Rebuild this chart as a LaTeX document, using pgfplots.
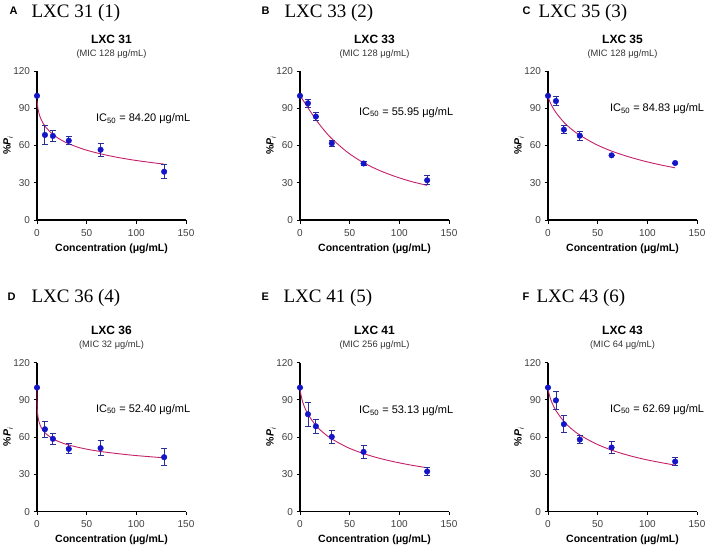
\documentclass[border=0pt]{standalone}
\usepackage{fontspec}
\setmainfont{Liberation Sans}
\newfontfamily\serifttl{Liberation Serif}
\usepackage{pgfplots}
\pgfplotsset{compat=1.18}
\definecolor{ptblue}{RGB}{20,20,200}
\definecolor{errblue}{RGB}{45,45,150}
\definecolor{fitcol}{RGB}{196,32,106}
\pgfplotsset{
  panel/.style={
    width=149pt,height=149pt,scale only axis,
    anchor=south west,
    axis lines=left,
    axis line style={-,line width=1.4pt,black},
    xmin=0,xmax=150,ymin=0,ymax=120,
    xtick={0,50,100,150}, ytick={0,30,60,90,120},
    tick align=outside, major tick length=3.5pt,
    tick style={line width=1pt,black},
    ticklabel style={font=\fontsize{10}{11}\selectfont,color=black!75},
    xticklabel style={yshift=-2pt},
    /pgf/number format/assume math mode=true,
    clip=false,
    xlabel={\textbf{Concentration (μg/mL)}},
    ylabel={\textbf{\%\textit{P}}\raisebox{-0.4ex}{\scriptsize\textit{i}}},
    every axis x label/.style={at={(axis description cs:0.5,0)},anchor=base,yshift=-31pt,font=\fontsize{10.5}{12}\selectfont},
    every axis y label/.style={at={([xshift=-29pt]axis description cs:0,0.5)},anchor=center,rotate=90,font=\fontsize{10.5}{12}\selectfont},
  },
  pts/.style={only marks, mark=*, mark size=2.8pt, color=ptblue,
    error bars/.cd, y dir=both, y explicit,
    error bar style={line width=0.9pt,color=errblue},
    error mark options={line width=0.9pt,color=errblue,mark size=3pt,rotate=90}},
  fit/.style={no marks, smooth, line width=0.9pt, color=fitcol},
}
\newcommand{\ttl}[2]{%
  \node[anchor=base,font=\bfseries\fontsize{12}{14}\selectfont] at ([yshift=28pt]axis description cs:0.5,1) {#1};
  \node[anchor=base,font=\fontsize{9.3}{11}\selectfont,color=black!80] at ([yshift=15pt]axis description cs:0.5,1) {#2};}
\newcommand{\ic}[3]{\node[anchor=base west,font=\fontsize{11}{13}\selectfont] at (axis cs:#1,#2) {IC\textsubscript{50} = #3 μg/mL};}
\begin{document}
\begin{tikzpicture}
\path[use as bounding box] (0,0) rectangle (708pt,-546pt);
% panel letters and serif titles
\node[anchor=base west,font=\bfseries\fontsize{11}{12}\selectfont] at (6pt,-14pt) {A};
\node[anchor=base west,font=\serifttl\fontsize{19}{22}\selectfont] at (28pt,-17pt) {LXC 31 (1)};
\node[anchor=base west,font=\bfseries\fontsize{11}{12}\selectfont] at (258pt,-14pt) {B};
\node[anchor=base west,font=\serifttl\fontsize{19}{22}\selectfont] at (281pt,-17pt) {LXC 33 (2)};
\node[anchor=base west,font=\bfseries\fontsize{11}{12}\selectfont] at (519pt,-14pt) {C};
\node[anchor=base west,font=\serifttl\fontsize{19}{22}\selectfont] at (535pt,-17pt) {LXC 35 (3)};
\node[anchor=base west,font=\bfseries\fontsize{11}{12}\selectfont] at (4pt,-300pt) {D};
\node[anchor=base west,font=\serifttl\fontsize{19}{22}\selectfont] at (28pt,-302pt) {LXC 36 (4)};
\node[anchor=base west,font=\bfseries\fontsize{11}{12}\selectfont] at (258pt,-300pt) {E};
\node[anchor=base west,font=\serifttl\fontsize{19}{22}\selectfont] at (280pt,-302pt) {LXC 41 (5)};
\node[anchor=base west,font=\bfseries\fontsize{11}{12}\selectfont] at (519pt,-300pt) {F};
\node[anchor=base west,font=\serifttl\fontsize{19}{22}\selectfont] at (533pt,-302pt) {LXC 43 (6)};

% A
\begin{axis}[panel, at={(37pt,-220pt)}]
\addplot[fit] coordinates {(0.1,96.2)(1,89.4)(2,85.8)(4,81.2)(8,75.6)(16,68.9)(24,64.6)(32,61.4)(48,56.7)(64,53.3)(80,50.6)(96,48.4)(112,46.6)(128,45.0)};
\addplot[pts] table[x=x,y=y,y error=e] {
x y e
0 100 0
8 68.5 7.5
16 67.7 4.3
32 63.9 3.4
64 56.6 5.1
128 38.9 5.8
};
\ttl{LXC 31}{(MIC 128 μg/mL)}
\ic{56}{79}{84.20}
\end{axis}

% B
\begin{axis}[panel, at={(300pt,-220pt)}]
\addplot[fit] coordinates {(0,100)(4,95.4)(8,90.4)(16,80.8)(24,72.6)(32,65.5)(48,54.4)(64,46.1)(80,39.9)(96,35.0)(112,31.0)(128,27.9)};
\addplot[pts] table[x=x,y=y,y error=e] {
x y e
0 100 0
8 94 3
16 83.3 3.5
32 61.8 2.5
64 45.5 1.6
128 32 3.6
};
\ttl{LXC 33}{(MIC 128 μg/mL)}
\ic{56}{84.5}{55.95}
\end{axis}

% C
\begin{axis}[panel, at={(548pt,-220pt)}]
\addplot[fit] coordinates {(0.5,98.3)(1,97.0)(2,95.0)(4,91.7)(8,86.5)(16,78.7)(24,72.9)(32,68.3)(48,61.0)(64,55.5)(80,51.2)(96,47.6)(112,44.6)(128,42.0)};
\addplot[pts] table[x=x,y=y,y error=e] {
x y e
0 100 0
8 95.8 3.5
16 72.8 3
32 67.9 3.5
64 52.1 0
128 45.9 0
};
\ttl{LXC 35}{(MIC 128 μg/mL)}
\ic{59}{87}{84.83}
\end{axis}

% D
\begin{axis}[panel, at={(37pt,-511.7pt)}]
\addplot[fit] coordinates {(0,99)(0.01,92.7)(0.1,86.5)(0.5,79.9)(1,76.4)(2,72.5)(4,68.2)(8,63.6)(16,58.7)(24,55.8)(32,53.7)(48,50.7)(64,48.5)(80,46.9)(96,45.5)(112,44.4)(128,43.4)};
\addplot[pts] table[x=x,y=y,y error=e] {
x y e
0 100 0
8 66.4 6.2
16 58.7 4.5
32 50.6 4
64 51.2 6
128 43.9 7
};
\ttl{LXC 36}{(MIC 32 μg/mL)}
\ic{56}{80.3}{52.40}
\end{axis}

% E
\begin{axis}[panel, at={(300pt,-511.7pt)}]
\addplot[fit] coordinates {(0.2,97.8)(1,93.8)(2,90.4)(4,85.4)(8,78.5)(16,69.4)(24,63.3)(32,58.6)(48,51.7)(64,46.8)(80,43.0)(96,40.0)(112,37.5)(128,35.4)};
\addplot[pts] table[x=x,y=y,y error=e] {
x y e
0 100 0
8 78.5 9.5
16 68.8 5.6
32 60.3 5.3
64 48.2 5.4
128 32.4 3.5
};
\ttl{LXC 41}{(MIC 256 μg/mL)}
\ic{56}{79}{53.13}
\end{axis}

% F
\begin{axis}[panel, at={(548pt,-511.7pt)}]
\addplot[fit] coordinates {(0.2,98.4)(1,95.1)(2,92.2)(4,87.8)(8,81.4)(16,72.7)(24,66.5)(32,61.8)(48,54.8)(64,49.6)(80,45.6)(96,42.4)(112,39.8)(128,37.5)};
\addplot[pts] table[x=x,y=y,y error=e] {
x y e
0 100 0
8 89.7 7
16 70.5 6.7
32 58.1 3.2
64 51.7 4.8
128 40.4 3
};
\ttl{LXC 43}{(MIC 64 μg/mL)}
\ic{59}{80.3}{62.69}
\end{axis}
\end{tikzpicture}
\end{document}
